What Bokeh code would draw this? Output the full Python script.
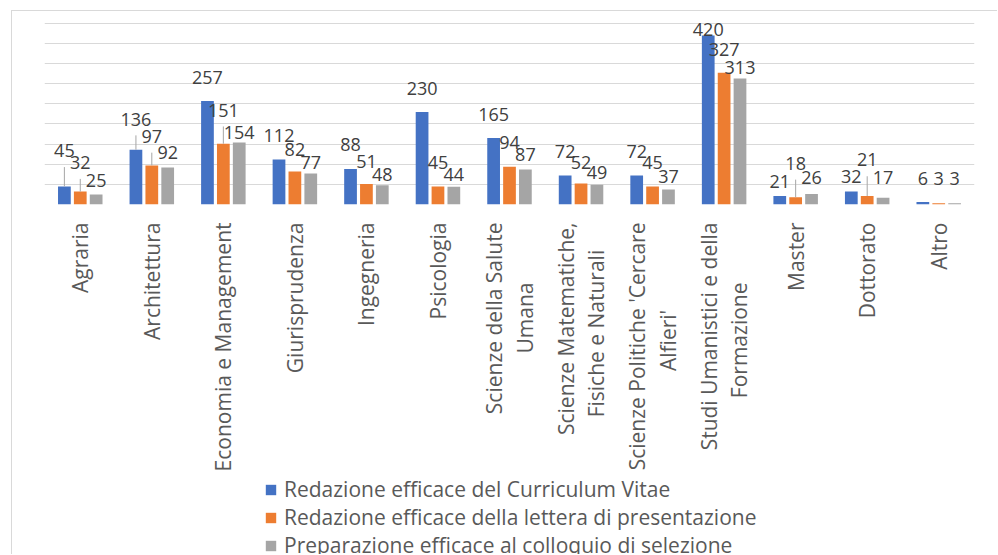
import math
from bokeh.plotting import figure
from bokeh.layouts import column
from bokeh.models import (ColumnDataSource, FactorRange, Range1d, Grid, SingleIntervalTicker,
                          Legend, LegendItem, CustomJSTickFormatter)
from bokeh.transform import dodge
from bokeh.core.properties import value
from bokeh.embed import file_html
from bokeh.resources import INLINE

# ---------------- data ----------------
categories = [
    "Agraria", "Architettura", "Economia e Management", "Giurisprudenza", "Ingegneria",
    "Psicologia", "Scienze della Salute Umana", "Scienze Matematiche, Fisiche e Naturali",
    "Scienze Politiche 'Cercare Alfieri'", "Studi Umanistici e della Formazione",
    "Master", "Dottorato", "Altro",
]
series_names = [
    "Redazione efficace del Curriculum Vitae",
    "Redazione efficace della lettera di presentazione",
    "Preparazione efficace al colloquio di selezione",
]
cv = [45, 136, 257, 112, 88, 230, 165, 72, 72, 420, 21, 32, 6]
lettera = [32, 97, 151, 82, 51, 45, 94, 52, 45, 327, 18, 21, 3]
colloquio = [25, 92, 154, 77, 48, 44, 87, 49, 37, 313, 26, 17, 3]

y_max = 450
y_step = 50

# how the long category names wrap on two lines (second line centred with padding)
wrapped = {
    "Scienze della Salute Umana": ("Scienze della Salute", "Umana", 11),
    "Scienze Matematiche, Fisiche e Naturali": ("Scienze Matematiche,", "Fisiche e Naturali", 5),
    "Scienze Politiche 'Cercare Alfieri'": ("Scienze Politiche 'Cercare", "Alfieri'", 16),
    "Studi Umanistici e della Formazione": ("Studi Umanistici e della", "Formazione", 11),
}

# data-label placement (px above the top of the bar, label centre)
cv_lbl_dy = [35.6, 30.6, 24, 24.4, 24.3, 23.8, 23.7, 24.2, 24.2, 5.7, 14.1, 15.6, 23.5]
lettera_lbl_dy = [28.9, 29, 33.5, 21.7, 22.8, 23.6, 24.2, 21.4, 24.3, 23.8, 33.9, 36.1, 24.8]
colloquio_lbl_dy = [13.8, 15.3, 9.6, 11.2, 10.6, 12.3, 14.7, 11.9, 13.5, 11.1, 16.4, 20, 24.8]

colors = ["#4472C4", "#ED7D31", "#A5A5A5"]
FONT = "Open Sans"
TEXT_COLOR = "#595959"
LABEL_COLOR = "#404040"
BORDER = "1px solid #D9D9D9"

# ---------------- main chart ----------------
W = 986
H1 = 463
B_LEFT, B_RIGHT, B_TOP = 32, 24, 1
px_0_to_max = 184          # pixels between the 0 and the 450 gridline
frame_h = 195
B_BOTTOM = H1 - B_TOP - frame_h
units_per_px = y_max / px_0_to_max
y_end = y_max * frame_h / px_0_to_max

p = figure(
    x_range=FactorRange(factors=categories), y_range=Range1d(0, y_end),
    width=W, height=H1, output_backend="svg", toolbar_location=None,
    y_axis_location=None,
    min_border_left=B_LEFT, min_border_right=B_RIGHT,
    min_border_top=B_TOP, min_border_bottom=B_BOTTOM,
    outline_line_color=None,
)
p.styles = {"margin-left": "11px", "margin-top": "10px",
            "border-left": BORDER, "border-top": BORDER}
p.xgrid.visible = False
p.ygrid.visible = False
p.add_layout(Grid(dimension=1, ticker=SingleIntervalTicker(interval=y_step),
                  grid_line_color="#D9D9D9", grid_line_width=1,
                  bounds=(0, y_max)))

labels_map = {k: a + "\n" + b + "\u00a0" * n for k, (a, b, n) in wrapped.items()}
xa = p.xaxis[0]
xa.formatter = CustomJSTickFormatter(args=dict(m=labels_map), code="""
    const v = (m instanceof Map) ? m.get(tick) : m[tick];
    return (v == null) ? tick : v;
""")
xa.major_label_orientation = math.pi / 2
xa.major_label_text_font = FONT
xa.major_label_text_font_size = "21px"
xa.major_label_text_color = TEXT_COLOR
xa.major_label_text_line_height = 1.08
xa.major_tick_line_color = None
xa.minor_tick_line_color = None
xa.axis_line_color = None
xa.major_label_standoff = 12

offsets = [-0.222, 0.0, 0.222]
series = [cv, lettera, colloquio]
dys = [cv_lbl_dy, lettera_lbl_dy, colloquio_lbl_dy]
sources = []

for k in range(3):
    vals = series[k]
    dy = dys[k]
    src = ColumnDataSource(dict(
        cat=categories,
        v=vals,
        lbl=[str(v) for v in vals],
        yoff=[-d for d in dy],
    ))
    sources.append(src)
    p.vbar(x=dodge("cat", offsets[k], range=p.x_range), top="v", width=0.178,
           source=src, fill_color=colors[k], line_color=None)

    # leader lines for labels moved away from the bar
    lc, l0, l1 = [], [], []
    for c, v, d in zip(categories, vals, dy):
        if d > 26:
            lc.append(c)
            l0.append(v)
            l1.append(v + (d - 16) * units_per_px)
    lsrc = ColumnDataSource(dict(cat=lc, y0=l0, y1=l1))
    p.segment(x0=dodge("cat", offsets[k], range=p.x_range), y0="y0",
              x1=dodge("cat", offsets[k], range=p.x_range), y1="y1",
              source=lsrc, line_color="#A6A6A6", line_width=1)

    p.text(x=dodge("cat", offsets[k], range=p.x_range), y="v", text="lbl",
           y_offset="yoff", source=src, text_align="center", text_baseline="middle",
           text_font=value(FONT), text_font_size="18px", text_color=LABEL_COLOR)

# ---------------- legend strip ----------------
H2 = 555 - 11 - H1
# same categories and bars, but a y-window above every value, so only the legend shows
lf = figure(width=W, height=H2, x_range=p.x_range, y_range=Range1d(10 * y_max, 10 * y_max + 1),
            output_backend="svg", toolbar_location=None,
            x_axis_location=None, y_axis_location=None,
            min_border=0, min_border_left=0, min_border_right=0,
            min_border_top=0, min_border_bottom=0, outline_line_color=None)
lf.styles = {"margin-left": "11px", "border-left": BORDER}
lf.xgrid.visible = False
lf.ygrid.visible = False

items = []
for k in range(3):
    r = lf.vbar(x=dodge("cat", offsets[k], range=p.x_range), top="v", width=0.178,
                source=sources[k], fill_color=colors[k], line_color=None)
    items.append(LegendItem(label=series_names[k], renderers=[r]))

legend = Legend(
    items=items, location=(220, -5), orientation="vertical",
    label_text_font=FONT, label_text_font_size="21px", label_text_color=TEXT_COLOR,
    glyph_width=13, glyph_height=13, label_standoff=7, spacing=0,
    padding=0, margin=0, border_line_color=None, background_fill_alpha=0,
)
lf.add_layout(legend, "center")

layout = column(p, lf, spacing=0)
open("out.html", "w").write(file_html(layout, INLINE))
